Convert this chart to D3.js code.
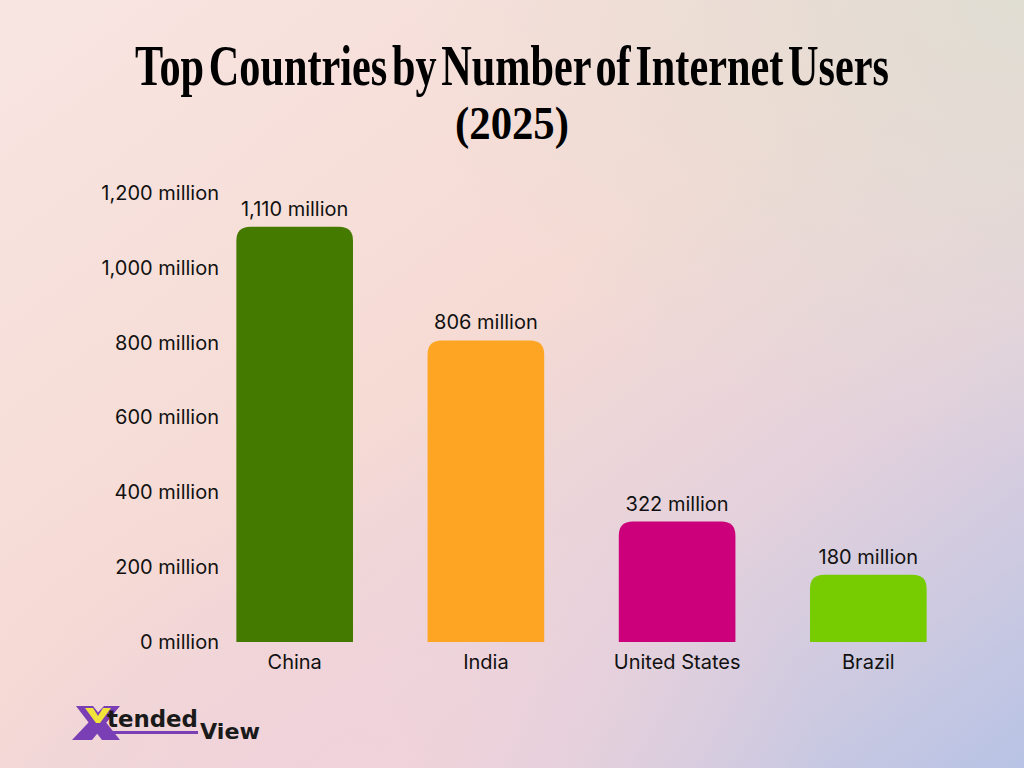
<!DOCTYPE html>
<html lang="en">
<head>
    <meta charset="UTF-8">
    <title>Top Countries by Number of Internet Users (2025)</title>
    <script src="https://d3js.org/d3.v7.min.js"></script>
    <style>
        body { margin: 0; padding: 0; overflow: hidden; }
        svg { display: block; }
        .tick text { font-family: Inter, 'Noto Sans', sans-serif; font-size: 20px; fill: #111; }
    </style>
</head>
<body>
    <svg id="chart" width="1024" height="768"></svg>
    <script>
        // --- data ---
        const countries = ["China", "India", "United States", "Brazil"];
        const users = [1110, 806, 322, 180];   // million
        const barColors = ["#457a00", "#fea623", "#cc007a", "#76cc00"];
        const yTicks = [0, 200, 400, 600, 800, 1000, 1200];

        const svg = d3.select("#chart");
        const W = 1024, H = 768;

        // background gradient
        const defs = svg.append("defs");
        const bg = defs.append("linearGradient").attr("id", "bg")
            .attr("x1", 0).attr("y1", 0).attr("x2", 1).attr("y2", 1);
        bg.append("stop").attr("offset", "0%").attr("stop-color", "#f8e5e2");
        bg.append("stop").attr("offset", "45%").attr("stop-color", "#f6dbd4");
        bg.append("stop").attr("offset", "70%").attr("stop-color", "#e4d1dc");
        bg.append("stop").attr("offset", "100%").attr("stop-color", "#b8c3e5");
        const tr = defs.append("radialGradient").attr("id", "tr")
            .attr("cx", 1).attr("cy", 0).attr("r", 0.6);
        tr.append("stop").attr("offset", "0%").attr("stop-color", "#e0ddd3").attr("stop-opacity", 1);
        tr.append("stop").attr("offset", "100%").attr("stop-color", "#e0ddd3").attr("stop-opacity", 0);
        const bl = defs.append("radialGradient").attr("id", "bl")
            .attr("cx", 0.35).attr("cy", 1).attr("r", 0.45);
        bl.append("stop").attr("offset", "0%").attr("stop-color", "#f2d3da").attr("stop-opacity", 0.9);
        bl.append("stop").attr("offset", "100%").attr("stop-color", "#f2d3da").attr("stop-opacity", 0);

        svg.append("rect").attr("width", W).attr("height", H).attr("fill", "url(#bg)");
        svg.append("rect").attr("width", W).attr("height", H).attr("fill", "url(#tr)");
        svg.append("rect").attr("width", W).attr("height", H).attr("fill", "url(#bl)");

        // title (two lines), squeezed horizontally to look condensed
        const titleFont = "'Liberation Serif', 'DejaVu Serif', serif";
        function condensedTitle(str, cx, cy, size, targetWidth, wordSpacing) {
            const t = svg.append("text")
                .attr("x", 0).attr("y", 0)
                .attr("text-anchor", "middle")
                .attr("font-family", titleFont)
                .attr("font-weight", "bold")
                .attr("font-size", size)
                .attr("word-spacing", wordSpacing)
                .attr("fill", "#000")
                .text(str);
            const w = t.node().getComputedTextLength();
            t.attr("transform", `translate(${cx},${cy}) scale(${targetWidth / w},1)`);
        }
        condensedTitle("Top Countries by Number of Internet Users", 512, 85, 58, 754, -8);
        condensedTitle("(2025)", 512, 139, 46, 114, 0);

        // scales
        const x = d3.scaleBand()
            .domain(countries)
            .range([179, 984])
            .paddingInner(0.39)
            .paddingOuter(0.3);
        const y = d3.scaleLinear()
            .domain([0, 1200])
            .range([642, 193]);

        // y axis (labels only)
        const yAxis = svg.append("g")
            .attr("transform", "translate(228,0)")
            .call(d3.axisLeft(y).tickValues(yTicks).tickSize(0).tickPadding(9)
                .tickFormat(d => d3.format(",")(d) + " million"));
        yAxis.select(".domain").remove();

        // x axis (labels only)
        const xAxis = svg.append("g")
            .attr("transform", "translate(0,642)")
            .call(d3.axisBottom(x).tickSize(0).tickPadding(13));
        xAxis.select(".domain").remove();

        // bars with rounded tops
        const r = 14;
        function topRounded(x0, y0, w, h) {
            const rr = Math.min(r, h, w / 2);
            return `M${x0},${y0 + h}V${y0 + rr}Q${x0},${y0} ${x0 + rr},${y0}` +
                   `H${x0 + w - rr}Q${x0 + w},${y0} ${x0 + w},${y0 + rr}V${y0 + h}Z`;
        }
        const data = countries.map((c, i) => ({ country: c, value: users[i], color: barColors[i] }));

        svg.append("g").selectAll("path")
            .data(data)
            .enter().append("path")
            .attr("d", d => topRounded(x(d.country), y(d.value), x.bandwidth(), y(0) - y(d.value)))
            .attr("fill", d => d.color);

        // value labels
        svg.append("g").selectAll("text")
            .data(data)
            .enter().append("text")
            .attr("x", d => x(d.country) + x.bandwidth() / 2)
            .attr("y", d => y(d.value) - 11)
            .attr("text-anchor", "middle")
            .attr("font-family", "Inter, 'Noto Sans', sans-serif")
            .attr("font-size", 20)
            .attr("fill", "#111")
            .text(d => d3.format(",")(d.value) + " million");

        // logo
        const logo = svg.append("g");
        logo.append("polygon").attr("points", "76,706 93,706 120,740 102,740").attr("fill", "#7b3fb5");
        logo.append("polygon").attr("points", "104,706 120,706 92,740 72,740").attr("fill", "#7b3fb5");
        logo.append("polygon").attr("points", "85,708 93,708 98,716 103,708 111,708 100,723 96,723").attr("fill", "#f2e33a");
        logo.append("rect").attr("x", 100).attr("y", 731).attr("width", 98).attr("height", 3).attr("fill", "#7b3fb5");
        logo.append("text").attr("x", 107).attr("y", 727)
            .attr("font-family", "'DejaVu Sans', sans-serif").attr("font-weight", "bold")
            .attr("font-size", 23).attr("fill", "#1a1a1a")
            .attr("textLength", 91).attr("lengthAdjust", "spacingAndGlyphs")
            .text("tended");
        logo.append("text").attr("x", 200).attr("y", 739)
            .attr("font-family", "'DejaVu Sans', sans-serif").attr("font-weight", "bold")
            .attr("font-size", 22).attr("fill", "#1a1a1a")
            .attr("textLength", 60).attr("lengthAdjust", "spacingAndGlyphs")
            .text("View");
    </script>
</body>
</html>
